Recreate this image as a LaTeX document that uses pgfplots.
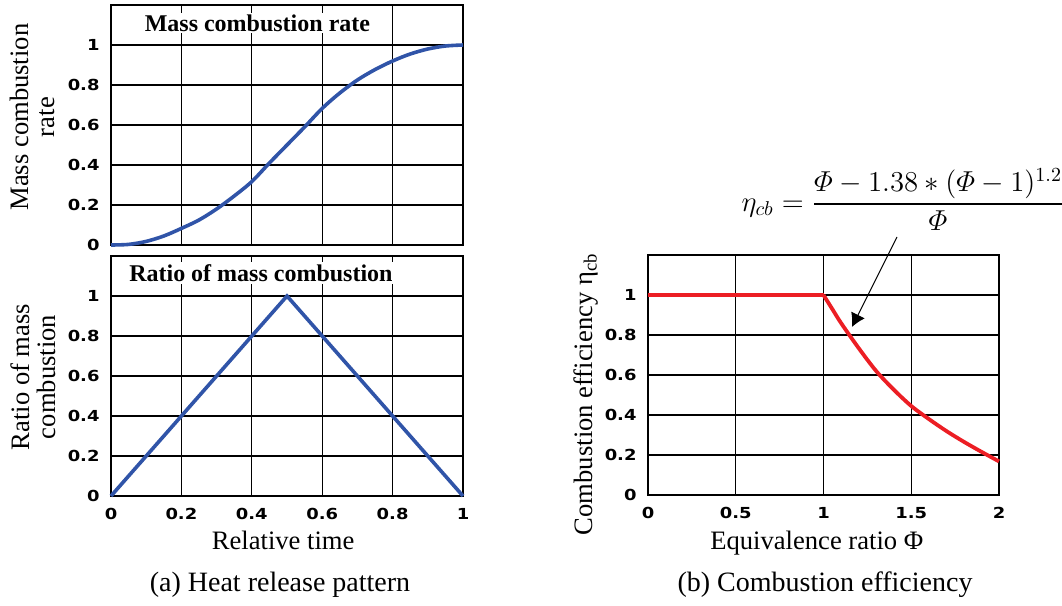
\documentclass[border=0pt]{standalone}
\usepackage{amsmath}
\usepackage{fontspec}
\setmainfont{Liberation Serif}
\newfontfamily\tickfont{DejaVu Sans}[FakeStretch=1.18]
\usepackage{pgfplots}
\pgfplotsset{compat=1.18}
\usetikzlibrary{arrows.meta}

\definecolor{curveblue}{RGB}{48,84,168}
\definecolor{curvered}{RGB}{236,30,36}

\pgfplotsset{
  panel/.style={
    scale only axis,
    height=120pt,
    xmin=0, ymin=0, ymax=1.2,
    ytick={0,0.2,0.4,0.6,0.8,1},
    grid=major,
    major grid style={black, line width=0.6pt},
    axis line style={black, line width=0.6pt},
    major tick length=0pt,
    tick label style={font=\tickfont\bfseries\fontsize{7.6}{9}\selectfont},
    /pgf/number format/assume math mode=true,
    yticklabel style={xshift=-2.2pt},
    xticklabel style={yshift=-2.6pt},
    label style={font=\fontsize{13.3}{13}\selectfont},
    clip=false,
  },
}
\tikzset{ttl/.style={fill=white, inner sep=1pt, font=\bfseries\fontsize{12}{14}\selectfont}}

\begin{document}
\begin{tikzpicture}
\path[use as bounding box] (0,0) rectangle (531pt,-303pt);

% top left: mass combustion rate
\begin{axis}[panel, width=176pt, at={(55.5pt,-122.5pt)}, anchor=south west,
  xmax=1, xtick={0,0.2,0.4,0.6,0.8,1}, xticklabels={},
  ylabel={Mass combustion\\rate},
  ylabel style={align=center, at={(axis description cs:-0.222,0.533)}, anchor=center}]
  \addplot[curveblue, line width=1.8pt, smooth] coordinates {
    (0,0) (0.05,0.003) (0.1,0.018) (0.15,0.045) (0.2,0.083) (0.25,0.125)
    (0.3,0.18) (0.35,0.245) (0.4,0.317) (0.45,0.41) (0.5,0.5) (0.55,0.59)
    (0.6,0.683) (0.65,0.76) (0.7,0.825) (0.75,0.877) (0.8,0.92) (0.85,0.955)
    (0.9,0.98) (0.95,0.995) (1,1)
  };
  \node[ttl] at (axis cs:0.416,1.11) {Mass combustion rate};
\end{axis}

% bottom left: ratio of mass combustion
\begin{axis}[panel, width=176pt, at={(55.5pt,-248pt)}, anchor=south west,
  xmax=1, xtick={0,0.2,0.4,0.6,0.8,1},
  xlabel={Relative time},
  xlabel style={at={(axis description cs:0.489,-0.183)}, anchor=center},
  ylabel={Ratio of mass\\combustion},
  ylabel style={align=center, at={(axis description cs:-0.222,0.496)}, anchor=center}]
  \addplot[curveblue, line width=1.8pt] coordinates {(0,0) (0.5,1) (1,0)};
  \node[ttl] at (axis cs:0.426,1.115) {Ratio of mass combustion};
\end{axis}

% right: combustion efficiency
\begin{axis}[panel, width=175.5pt, at={(324pt,-247.5pt)}, anchor=south west,
  xmax=2, xtick={0,0.5,1,1.5,2},
  xlabel={Equivalence ratio Φ},
  xlabel style={at={(axis description cs:0.481,-0.2)}, anchor=center},
  ylabel={Combustion efficiency η\textsubscript{cb}},
  ylabel style={at={(axis description cs:-0.177,0.42)}, anchor=center}]
  \addplot[curvered, line width=1.9pt] coordinates {(0,1) (1,1)};
  \addplot[curvered, line width=1.9pt, smooth] coordinates {
    (1,1) (1.05,0.93) (1.1,0.86) (1.2,0.735) (1.3,0.62) (1.4,0.527)
    (1.5,0.445) (1.6,0.38) (1.7,0.32) (1.8,0.266) (1.9,0.216) (2,0.168)
  };
  \draw[black, line width=0.5pt, -{Latex[length=6.7pt,width=7.6pt]}]
    (axis cs:1.419,1.29) -- (axis cs:1.162,0.84);
\end{axis}

\node[font=\fontsize{14.2}{16}\selectfont] at (451.5pt,-99.8pt)
  {$\eta_{cb} = \dfrac{\varPhi - 1.38 \ast (\varPhi - 1)^{1.2}}{\varPhi}$};

\node[font=\fontsize{14}{16}\selectfont] at (140pt,-292.5pt) {(a) Heat release pattern};
\node[font=\fontsize{14}{16}\selectfont] at (412.5pt,-292.5pt) {(b) Combustion efficiency};
\end{tikzpicture}
\end{document}
